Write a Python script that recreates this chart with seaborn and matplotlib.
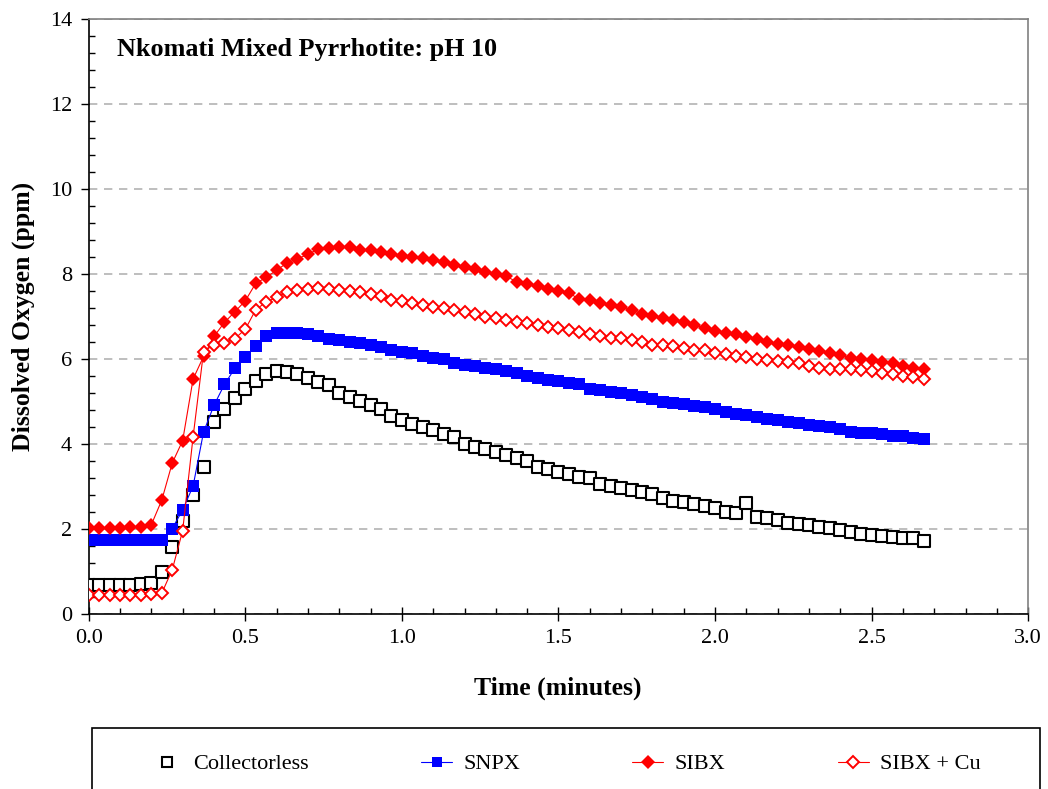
import numpy as np
import pandas as pd
import matplotlib
matplotlib.use("Agg")
import matplotlib.pyplot as plt
from matplotlib.lines import Line2D
from matplotlib.patches import Rectangle
import seaborn as sns

# ---- data ----
time_seconds = np.arange(0, 162, 2)           # sampled every 2 s
time_minutes = time_seconds / 60.0

collectorless = [0.68, 0.68, 0.68, 0.68, 0.68, 0.70, 0.73,
                 0.99, 1.57, 2.19, 2.80, 3.45, 4.52, 4.83,
                 5.09, 5.29, 5.49, 5.64, 5.72, 5.70, 5.64, 5.56, 5.47, 5.39,
                 5.21, 5.11, 5.01, 4.92, 4.82, 4.66, 4.56, 4.48, 4.41, 4.32, 4.24, 4.17, 4.01, 3.94,
                 3.88, 3.81, 3.73, 3.66, 3.60, 3.47, 3.41, 3.35, 3.30, 3.23, 3.19, 3.07, 3.01, 2.96,
                 2.92, 2.86, 2.82, 2.74, 2.66, 2.64, 2.58, 2.53, 2.49,
                 2.41, 2.37, 2.62, 2.29, 2.25, 2.21, 2.14, 2.11, 2.09, 2.05, 2.02, 1.98, 1.94, 1.88,
                 1.86, 1.84, 1.82, 1.79, 1.78, 1.72]

snpx = [1.75, 1.75, 1.75, 1.75, 1.75, 1.75, 1.75, 1.75,
        2.01, 2.45, 3.01, 4.28, 4.91, 5.40, 5.78, 6.05, 6.30, 6.55,
        6.60, 6.62, 6.62, 6.58, 6.55, 6.48, 6.44, 6.40, 6.37, 6.32, 6.29, 6.21, 6.16, 6.13,
        6.08, 6.03, 5.99, 5.91, 5.87, 5.83,
        5.78, 5.76, 5.72, 5.68, 5.60, 5.56, 5.50, 5.48, 5.44, 5.40, 5.30, 5.27, 5.22, 5.19,
        5.15, 5.11, 5.05, 5.00, 4.96, 4.93, 4.89, 4.86, 4.82,
        4.76, 4.71, 4.68, 4.64, 4.60, 4.56, 4.52, 4.49, 4.45, 4.42, 4.39, 4.35, 4.29, 4.27,
        4.25, 4.23, 4.20, 4.18, 4.15, 4.12]

sibx = [2.02, 2.02, 2.03, 2.03, 2.04, 2.04, 2.10,
        2.68, 3.55, 4.08, 5.53, 6.06, 6.53, 6.86, 7.11, 7.37, 7.78,
        7.92, 8.09, 8.26, 8.36, 8.46, 8.59, 8.61, 8.64, 8.64, 8.57, 8.57, 8.52, 8.48, 8.43,
        8.40, 8.38, 8.32, 8.28, 8.21, 8.17, 8.12,
        8.04, 8.00, 7.95, 7.81, 7.77, 7.71, 7.65, 7.60, 7.56, 7.40, 7.38, 7.32, 7.27, 7.23,
        7.16, 7.06, 7.02, 6.97, 6.91, 6.87, 6.81, 6.72, 6.67,
        6.62, 6.58, 6.52, 6.48, 6.40, 6.36, 6.32, 6.28, 6.24, 6.19, 6.15, 6.09, 6.03, 5.99,
        5.97, 5.94, 5.90, 5.83, 5.80, 5.76]

sibx_cu = [0.45, 0.45, 0.45, 0.45, 0.45, 0.45, 0.46, 0.49,
           1.04, 1.96, 4.17, 6.17, 6.34, 6.38, 6.48, 6.70, 7.16,
           7.34, 7.45, 7.58, 7.63, 7.65, 7.67, 7.65, 7.62, 7.60, 7.58, 7.52, 7.48, 7.38, 7.37,
           7.32, 7.28, 7.23, 7.20, 7.16, 7.11, 7.05,
           6.99, 6.97, 6.91, 6.87, 6.84, 6.79, 6.76, 6.72, 6.68, 6.64, 6.58, 6.54, 6.50, 6.50,
           6.44, 6.41, 6.34, 6.32, 6.30, 6.26, 6.22, 6.21, 6.14,
           6.11, 6.07, 6.05, 6.01, 5.97, 5.95, 5.94, 5.91, 5.83, 5.80, 5.77, 5.76, 5.76, 5.74,
           5.72, 5.68, 5.64, 5.61, 5.58, 5.52]

series_names = ["Collectorless", "SNPX", "SIBX", "SIBX + Cu"]
title_text = "Nkomati Mixed Pyrrhotite: pH 10"
x_label = "Time (minutes)"
y_label = "Dissolved Oxygen (ppm)"

# ---- style ----
sns.set_theme(style="white")
plt.rcParams["font.family"] = ["Liberation Serif", "DejaVu Serif"]
for k in ["text.color", "axes.labelcolor", "xtick.color", "ytick.color"]:
    plt.rcParams[k] = "black"

fig = plt.figure(figsize=(10.48, 7.89), dpi=100)
ax = fig.add_axes([88.7 / 1048, 1 - 614 / 789, 939.6 / 1048, 595 / 789])

df = pd.DataFrame({"t": time_minutes, "c": collectorless, "s": snpx,
                   "b": sibx, "u": sibx_cu})

sns.scatterplot(data=df, x="t", y="c", ax=ax, marker="s", s=64,
                facecolor="white", edgecolor="black", linewidth=1.5,
                zorder=3, legend=False)
sns.lineplot(data=df, x="t", y="s", ax=ax, color="#0000ff", lw=0.8,
             marker="s", markersize=8.2, markeredgewidth=0,
             markerfacecolor="#0000ff", zorder=4, legend=False)
sns.lineplot(data=df, x="t", y="b", ax=ax, color="#ff0000", lw=0.8,
             marker="D", markersize=7.4, markeredgewidth=0,
             markerfacecolor="#ff0000", zorder=5, legend=False)
sns.lineplot(data=df, x="t", y="u", ax=ax, color="#ff0000", lw=0.8,
             marker="D", markersize=6.3, markeredgewidth=1.4,
             markerfacecolor="white", markeredgecolor="#ff0000",
             zorder=6, legend=False)

ax.set_xlim(0, 3)
ax.set_ylim(0, 14)
ax.set_xticks(np.arange(0, 3.01, 0.5))
ax.set_xticks(np.arange(0, 3.01, 0.1), minor=True)
ax.set_yticks(np.arange(0, 14.1, 2))
ax.set_yticks(np.arange(0, 14.01, 0.4), minor=True)
ax.set_xticklabels([f"{v:.1f}" for v in np.arange(0, 3.01, 0.5)])
ax.set_yticklabels([f"{int(v)}" for v in np.arange(0, 14.1, 2)])

ax.tick_params(axis="both", which="major", direction="out", length=6,
               width=1, color="black", labelsize=16, pad=6)
ax.tick_params(axis="both", which="minor", direction="in", length=4,
               width=1, color="black")
ax.tick_params(axis="x", which="major", direction="inout", length=10)
ax.tick_params(bottom=True, left=True, which="both")

ax.yaxis.grid(True, which="major", linestyle=(0, (5, 4)), color="#b3b3b3", lw=1.2)
ax.xaxis.grid(False)
for side in ["left", "bottom"]:
    ax.spines[side].set_color("black")
    ax.spines[side].set_linewidth(1.2)
for side in ["top", "right"]:
    ax.spines[side].set_color("#808080")
    ax.spines[side].set_linewidth(1.2)

ax.set_xlabel(x_label, fontsize=18.5, fontweight="bold")
ax.set_ylabel(y_label, fontsize=18.5, fontweight="bold")
ax.xaxis.set_label_coords(0.4995, -0.106)
ax.yaxis.set_label_coords(-0.057, 0.5)

ax.text(0.030, 0.948, title_text, transform=ax.transAxes, fontsize=18.8,
        fontweight="bold", ha="left", va="center")

# ---- legend ----
fig.patches.append(Rectangle((92 / 1048, -0.1), (1040 - 92) / 1048,
                             0.1 + (789 - 728) / 789, transform=fig.transFigure,
                             fill=False, edgecolor="black", lw=1.2))
handles = [
    Line2D([], [], ls="none", marker="s", markersize=7.8, markerfacecolor="white",
           markeredgecolor="black", markeredgewidth=1.5),
    Line2D([], [], color="#0000ff", lw=0.8, marker="s", markersize=7.5,
           markerfacecolor="#0000ff", markeredgewidth=0),
    Line2D([], [], color="#ff0000", lw=0.8, marker="D", markersize=7,
           markerfacecolor="#ff0000", markeredgewidth=0),
    Line2D([], [], color="#ff0000", lw=0.8, marker="D", markersize=6,
           markerfacecolor="white", markeredgecolor="#ff0000", markeredgewidth=1.4),
]
fig.legend(handles, series_names, loc="center left",
           bbox_to_anchor=(151 / 1048, 1 - 764 / 789), ncol=4, frameon=False,
           fontsize=16, handlelength=1.4, handletextpad=0.5, columnspacing=5.05,
           borderpad=0, borderaxespad=0)

fig.savefig("out.png", dpi=100)
